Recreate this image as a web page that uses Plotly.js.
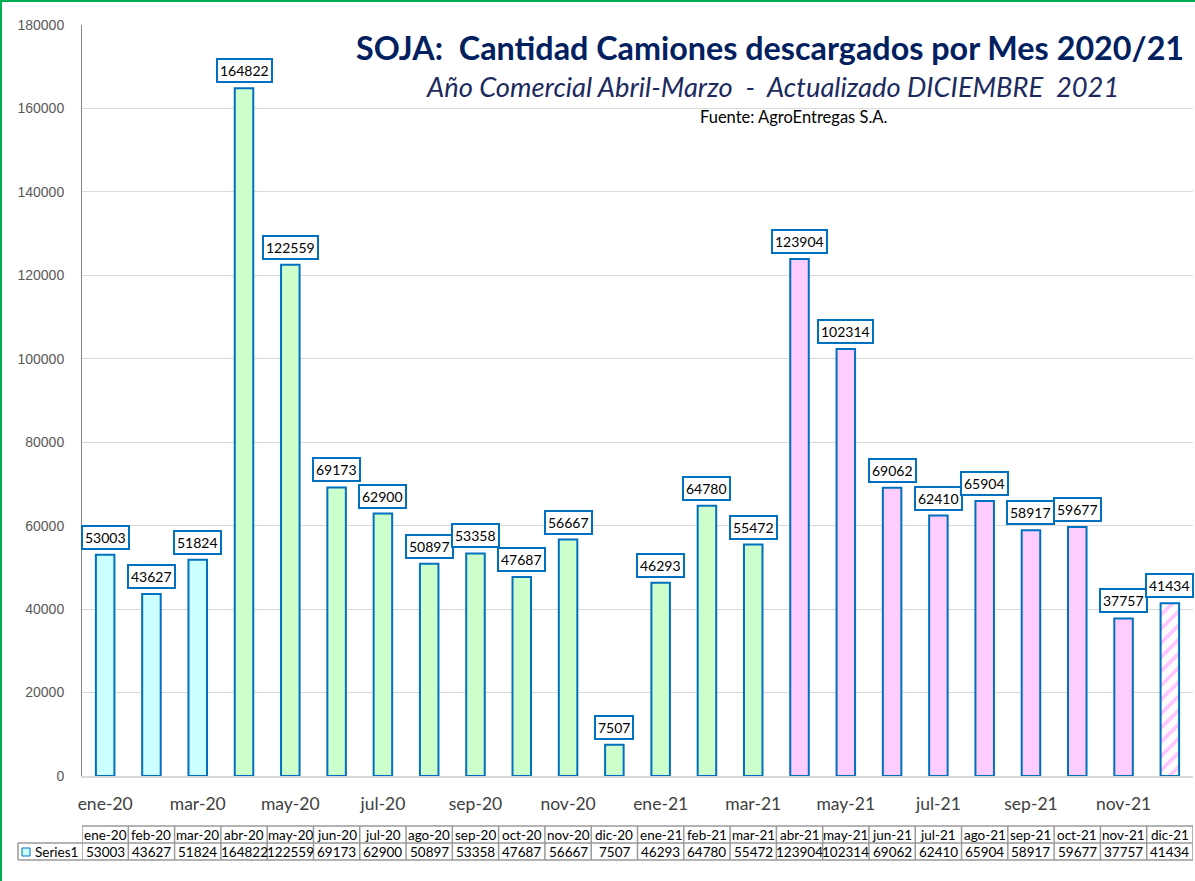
<!DOCTYPE html>
<html>
<head>
<meta charset="utf-8">
<script src="https://cdn.plot.ly/plotly-3.0.1.min.js"></script>
<style>
html,body{margin:0;padding:0;background:#fff;}
#wrap{position:relative;width:1195px;height:881px;}
#chart{position:absolute;left:0;top:0;width:1195px;height:881px;}
#frame{position:absolute;left:0;top:0;width:1195px;height:881px;box-sizing:border-box;border-left:2px solid #00b050;border-top:2px solid #00b050;pointer-events:none;}
</style>
</head>
<body>
<div id="wrap"><div id="chart"></div><div id="frame"></div></div>
<script>
const months = ['ene-20','feb-20','mar-20','abr-20','may-20','jun-20','jul-20','ago-20','sep-20','oct-20','nov-20','dic-20',
                'ene-21','feb-21','mar-21','abr-21','may-21','jun-21','jul-21','ago-21','sep-21','oct-21','nov-21','dic-21'];
const camiones = [53003,43627,51824,164822,122559,69173,62900,50897,53358,47687,56667,7507,
                  46293,64780,55472,123904,102314,69062,62410,65904,58917,59677,37757,41434];
const seriesName = 'Series1';
const titleText = 'SOJA:\u00a0 Cantidad Camiones descargados por Mes 2020/21';
const subtitleText = 'Año Comercial Abril-Marzo\u00a0 -\u00a0 Actualizado DICIEMBRE\u00a0 2021';
const sourceText = 'Fuente: AgroEntregas S.A.';

// styles
const FONT = 'Lato, Carlito, sans-serif';
const CYAN = '#ccffff', GREEN = '#ccffcc', PINK = '#ffccff', BLUE = '#0070c0', TBL = '#9a9a9a';
const nSolid = months.length - 1; // last month (partial) is drawn hatched
const fillColors = months.slice(0, nSolid).map((m, i) => i < 3 ? CYAN : (i < 15 ? GREEN : PINK));

const W = 1195, H = 881, ML = 18, MR = 2, MT = 25, MB = 21;
const PW = W - ML - MR, PH = H - MT - MB;
const px2x = p => (p - ML) / PW;
const py2y = p => (H - MB - p) / PH;

const bars = {
  type: 'bar', x: months.slice(0, nSolid), y: camiones.slice(0, nSolid), width: 0.4,
  marker: {color: fillColors, line: {color: BLUE, width: 2}},
  hoverinfo: 'x+y', showlegend: false
};
const hatched = {
  type: 'bar', x: months.slice(nSolid), y: camiones.slice(nSolid), width: 0.4,
  marker: {color: '#ffffff', line: {color: BLUE, width: 2},
           pattern: {shape: '/', fgcolor: '#ffc6ff', bgcolor: '#ffffff', size: 10, solidity: 0.38}},
  hoverinfo: 'x+y', showlegend: false
};

const labelAnns = months.map((m, i) => ({
  x: m, y: camiones[i], xref: 'x', yref: 'y', text: String(camiones[i]),
  showarrow: false, yanchor: 'bottom', yshift: 5,
  font: {family: FONT, size: 14, color: '#000'},
  bgcolor: '#ffffff', bordercolor: BLUE, borderwidth: 2, borderpad: 2
}));

// data table below the axis (cells positioned on the category axis)
const yHead = py2y(834.5), yVal = py2y(851.5);
const tableAnns = [];
months.forEach((m, i) => {
  tableAnns.push({x: m, y: yHead, xref: 'x', yref: 'paper', text: m, showarrow: false,
    xanchor: 'center', yanchor: 'middle', font: {family: FONT, size: 13.5, color: '#000'}});
  tableAnns.push({x: m, y: yVal, xref: 'x', yref: 'paper', text: String(camiones[i]), showarrow: false,
    xanchor: 'center', yanchor: 'middle', font: {family: FONT, size: 13.5, color: '#000'}});
});
tableAnns.push({x: px2x(80), y: yVal, xref: 'paper', yref: 'paper', text: seriesName, showarrow: false,
  xanchor: 'right', yanchor: 'middle', font: {family: FONT, size: 13.5, color: '#000'}});

const tableShapes = [];
const lineSty = {color: TBL, width: 1.5};
tableShapes.push({type: 'line', xref: 'paper', yref: 'paper', x0: px2x(82), x1: 1, y0: py2y(826), y1: py2y(826), line: lineSty});
[843, 860].forEach(p => tableShapes.push({type: 'line', xref: 'paper', yref: 'paper', x0: px2x(18), x1: 1, y0: py2y(p), y1: py2y(p), line: lineSty}));
tableShapes.push({type: 'line', xref: 'paper', yref: 'paper', x0: px2x(18), x1: px2x(18), y0: py2y(843), y1: py2y(860), line: lineSty});
for (let k = 0; k <= months.length; k++) {
  tableShapes.push({type: 'line', xref: 'x', yref: 'paper', x0: k - 0.5, x1: k - 0.5, y0: py2y(826), y1: py2y(860), line: lineSty});
}
tableShapes.push({type: 'rect', xref: 'paper', yref: 'paper', layer: 'above',
  x0: px2x(22), x1: px2x(30), y0: py2y(856), y1: py2y(848), fillcolor: CYAN, line: {color: BLUE, width: 1}});

const textAnns = [
  {text: '<b>' + titleText + '</b>', xref: 'paper', yref: 'paper', x: px2x(1186), y: py2y(47),
   xanchor: 'right', yanchor: 'middle', showarrow: false,
   font: {family: FONT, size: 32.3, color: '#002060'}},
  {text: '<i>' + subtitleText + '</i>', xref: 'paper', yref: 'paper', x: px2x(1121), y: py2y(86),
   xanchor: 'right', yanchor: 'middle', showarrow: false,
   font: {family: FONT, size: 27.3, color: '#1c2a5e'}},
  {text: sourceText, xref: 'paper', yref: 'paper', x: px2x(793), y: py2y(117),
   xanchor: 'center', yanchor: 'middle', showarrow: false,
   font: {family: FONT, size: 16.5, color: '#000'}}
];

const layout = {
  width: W, height: H,
  margin: {l: ML, r: MR, t: MT, b: MB, pad: 0},
  paper_bgcolor: '#fff', plot_bgcolor: '#fff',
  barmode: 'overlay',
  xaxis: {domain: [px2x(82), 1], type: 'category', categoryorder: 'array', categoryarray: months,
          tickvals: months.filter((m, i) => i % 2 === 0),
          showgrid: false, showline: true, linecolor: '#d9d9d9', linewidth: 2,
          ticks: '', ticklabelstandoff: 11,
          tickfont: {family: FONT, size: 17.5, color: '#404040'},
          range: [-0.5, 23.5], fixedrange: true},
  yaxis: {domain: [py2y(776), py2y(25)], range: [0, 180000], dtick: 20000, tick0: 0,
          showgrid: true, gridcolor: '#d9d9d9', gridwidth: 1,
          showline: true, linecolor: '#868686', linewidth: 1, zeroline: false,
          ticks: '', ticklabelstandoff: 14, tickformat: 'd',
          tickfont: {family: 'Liberation Sans, Arial, sans-serif', size: 14, color: '#595959'},
          fixedrange: true},
  annotations: labelAnns.concat(tableAnns, textAnns),
  shapes: tableShapes,
  showlegend: false
};

Plotly.newPlot('chart', [bars, hatched], layout, {displayModeBar: false, staticPlot: true});
</script>
</body>
</html>
